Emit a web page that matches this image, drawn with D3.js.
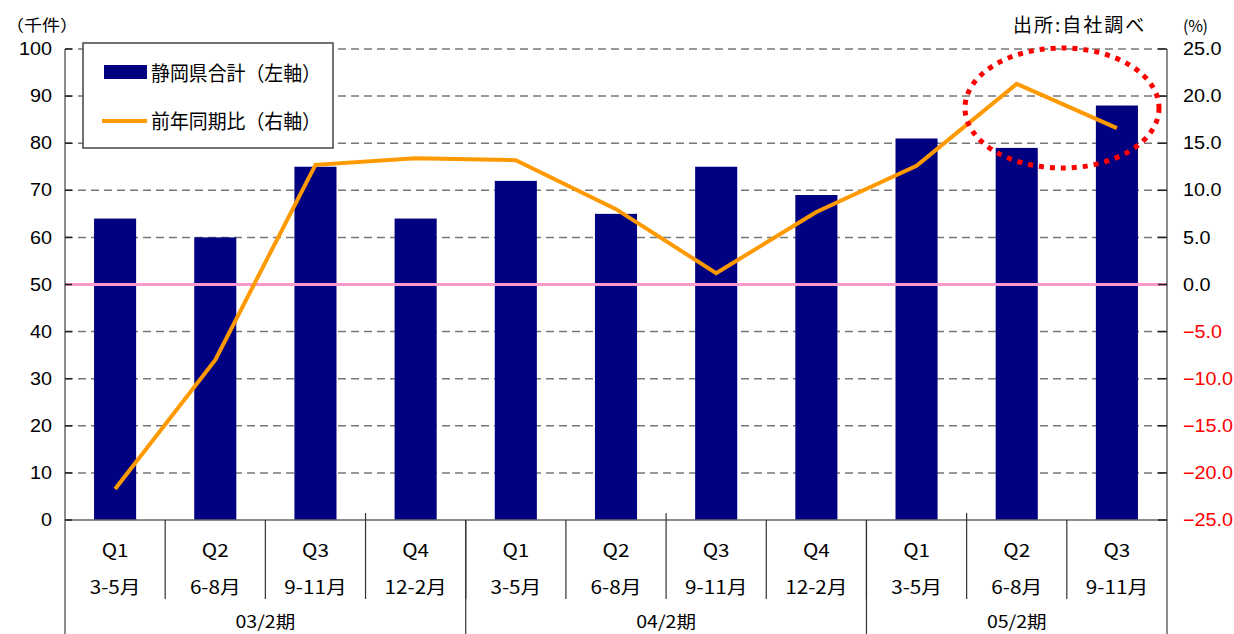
<!DOCTYPE html>
<html><head><meta charset="utf-8">
<script src="https://cdn.jsdelivr.net/npm/d3@7"></script>
<style>
html,body{margin:0;padding:0;background:#fff;}
svg{display:block;}
text{font-family:"Noto Sans CJK JP","Noto Sans",sans-serif;}
.num{font-family:"Liberation Sans",Arial,sans-serif;}
</style></head>
<body>
<svg id="c" width="1234" height="634"></svg>
<script>
const quarters = ["Q1","Q2","Q3","Q4","Q1","Q2","Q3","Q4","Q1","Q2","Q3"];
const months = ["3-5月","6-8月","9-11月","12-2月","3-5月","6-8月","9-11月","12-2月","3-5月","6-8月","9-11月"];
const periods = ["03/2期","04/2期","05/2期"];
const periodSizes = [4,4,3];
const totals = [64,60,75,64,72,65,75,69,81,79,88];
const yoy = [-21.7,-8.0,12.7,13.4,13.2,8.0,1.2,7.7,12.6,21.3,16.6];
const leftTicks = [0,10,20,30,40,50,60,70,80,90,100];
const rightTicks = [-25,-20,-15,-10,-5,0,5,10,15,20,25];
const seriesNames = ["静岡県合計（左軸）","前年同期比（右軸）"];

const svg = d3.select("#c");
const L = 65, R = 1167, T = 49, B = 520;
const idx = d3.range(totals.length);
const x = d3.scaleBand().domain(idx).range([L, R]).paddingInner(0.58).paddingOuter(0.29);
const step = x.step();
const yL = d3.scaleLinear().domain([0,100]).range([B, T]);
const yR = d3.scaleLinear().domain([-25,25]).range([B, T]);

// gridlines
svg.append("g").selectAll("line").data(leftTicks.filter(d=>d>0)).join("line")
  .attr("x1", L).attr("x2", R).attr("y1", d=>yL(d)).attr("y2", d=>yL(d))
  .attr("stroke", "#777").attr("stroke-width", 1.5).attr("stroke-dasharray", "8,5");

// bars
svg.append("g").selectAll("rect").data(totals).join("rect")
  .attr("x", (d,i)=>x(i)).attr("width", x.bandwidth())
  .attr("y", d=>yL(d)).attr("height", d=>B - yL(d))
  .attr("fill", "#000080");

// zero line (right axis)
svg.append("line").attr("x1",L).attr("x2",R).attr("y1",yR(0)).attr("y2",yR(0))
  .attr("stroke","#FF99CC").attr("stroke-width",3);

// axes lines
svg.append("line").attr("x1",L).attr("x2",R).attr("y1",B).attr("y2",B).attr("stroke","#666").attr("stroke-width",1.5);
svg.append("line").attr("x1",L).attr("x2",L).attr("y1",T).attr("y2",634).attr("stroke","#666").attr("stroke-width",1.5);
svg.append("line").attr("x1",R).attr("x2",R).attr("y1",T).attr("y2",634).attr("stroke","#666").attr("stroke-width",1.5);

// left ticks
svg.append("g").selectAll("line").data(leftTicks).join("line")
  .attr("x1", L).attr("x2", L+7).attr("y1", d=>yL(d)).attr("y2", d=>yL(d))
  .attr("stroke","#222").attr("stroke-width",1.5);
svg.append("g").selectAll("text").data(leftTicks).join("text")
  .attr("class","num")
  .attr("transform", d=>`translate(52,${yL(d)}) scale(1.1,1)`)
  .attr("text-anchor","end").attr("dominant-baseline","central")
  .attr("font-size",18).attr("fill","#000").text(d=>d);

// right ticks
svg.append("g").selectAll("line").data(rightTicks).join("line")
  .attr("x1", R-9).attr("x2", R).attr("y1", d=>yR(d)).attr("y2", d=>yR(d))
  .attr("stroke","#222").attr("stroke-width",1.5);
svg.append("g").selectAll("text").data(rightTicks).join("text")
  .attr("class","num")
  .attr("transform", d=>`translate(1183,${yR(d)}) scale(1.1,1)`)
  .attr("text-anchor","start").attr("dominant-baseline","central")
  .attr("font-size",18).attr("fill", d=>d<0?"#FF0000":"#000")
  .text(d=>d3.format(".1f")(d).replace("-","−"));

// category separators
const bounds = d3.range(1, totals.length).map(i=>L + step*i);
svg.append("g").selectAll("line").data(bounds).join("line")
  .attr("x1",d=>d).attr("x2",d=>d).attr("y1",B).attr("y2",599)
  .attr("stroke","#333").attr("stroke-width",1.2);
// ticks above axis every 3 categories
svg.append("g").selectAll("line").data([3,6,9]).join("line")
  .attr("x1",d=>L+step*d).attr("x2",d=>L+step*d).attr("y1",B-7).attr("y2",B)
  .attr("stroke","#333").attr("stroke-width",1.2);
// period separators
let acc = 0; const pStarts = [];
periodSizes.forEach(s=>{ pStarts.push(acc); acc += s; });
svg.append("g").selectAll("line").data(pStarts.slice(1)).join("line")
  .attr("x1",d=>L+step*d).attr("x2",d=>L+step*d).attr("y1",B).attr("y2",634)
  .attr("stroke","#333").attr("stroke-width",1.2);

// category labels
svg.append("g").selectAll("text").data(quarters).join("text")
  .attr("transform",(d,i)=>`translate(${x(i)+x.bandwidth()/2},550) scale(1.15,1)`)
  .attr("text-anchor","middle").attr("dominant-baseline","central")
  .attr("font-size",18).text(d=>d);
svg.append("g").selectAll("text").data(months).join("text")
  .attr("transform",(d,i)=>`translate(${x(i)+x.bandwidth()/2},587) scale(1.15,1)`)
  .attr("text-anchor","middle").attr("dominant-baseline","central")
  .attr("font-size",18).text(d=>d);
svg.append("g").selectAll("text").data(periods).join("text")
  .attr("transform",(d,i)=>`translate(${L + step*(pStarts[i] + periodSizes[i]/2)},621) scale(1.15,1)`)
  .attr("text-anchor","middle").attr("dominant-baseline","central")
  .attr("font-size",17).text(d=>d);

// line series
const line = d3.line().x((d,i)=>x(i)+x.bandwidth()/2).y(d=>yR(d));
svg.append("path").datum(yoy).attr("d", line)
  .attr("fill","none").attr("stroke","#FF9900").attr("stroke-width",4).attr("stroke-linejoin","miter");

// highlight ellipse
svg.append("ellipse").attr("cx",1062).attr("cy",108).attr("rx",97).attr("ry",60)
  .attr("fill","none").attr("stroke","#FF0000").attr("stroke-width",5).attr("stroke-dasharray","5,6");

// legend
const lg = svg.append("g");
lg.append("rect").attr("x",83).attr("y",43).attr("width",250).attr("height",105)
  .attr("fill","#fff").attr("stroke","#444").attr("stroke-width",1.5);
lg.append("rect").attr("x",104).attr("y",65).attr("width",43).attr("height",14).attr("fill","#000080");
lg.append("line").attr("x1",102).attr("x2",147).attr("y1",121).attr("y2",121).attr("stroke","#FF9900").attr("stroke-width",4);
lg.append("text").attr("x",151).attr("y",72).attr("dominant-baseline","central").attr("font-size",20)
  .attr("textLength",170).attr("lengthAdjust","spacingAndGlyphs").text(seriesNames[0]);
lg.append("text").attr("x",151).attr("y",120).attr("dominant-baseline","central").attr("font-size",20)
  .attr("textLength",170).attr("lengthAdjust","spacingAndGlyphs").text(seriesNames[1]);

// titles
svg.append("text").attr("x",6).attr("y",24).attr("dominant-baseline","central").attr("font-size",16)
  .attr("textLength",72).attr("lengthAdjust","spacingAndGlyphs").text("（千件）");
svg.append("text").attr("x",1183).attr("y",25).attr("dominant-baseline","central").attr("font-size",16).attr("textLength",25).text("(%)");
svg.append("text").attr("x",1013).attr("y",23).attr("dominant-baseline","central").attr("font-size",19)
  .attr("letter-spacing","2px").text("出所:自社調べ");
</script>
</body></html>
